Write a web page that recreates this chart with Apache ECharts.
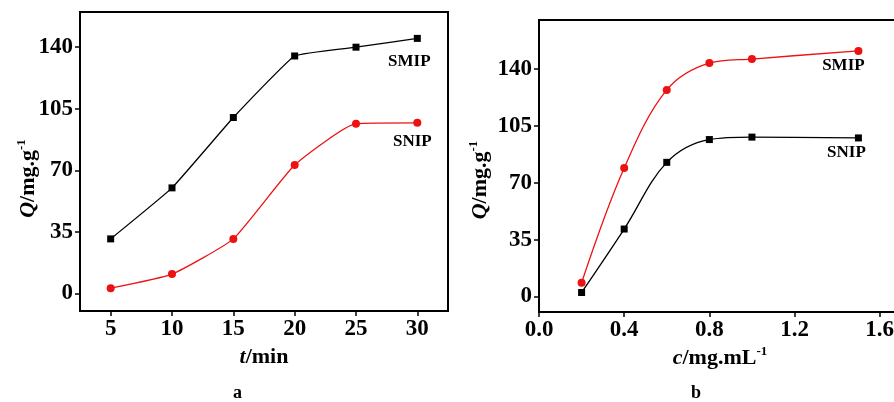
<!DOCTYPE html>
<html>
<head>
<meta charset="utf-8">
<script src="https://cdn.jsdelivr.net/npm/echarts@6/dist/echarts.min.js"></script>
<style>
  html, body { margin: 0; padding: 0; background: #fff; }
  #chart { width: 894px; height: 402px; }
</style>
</head>
<body>
<div id="chart"></div>
<script>
// panel a: Q vs t
const tA = [5, 10, 15, 20, 25, 30];
const smipA = [31, 60, 100, 135, 140, 145];
const snipA = [3, 11, 31, 73, 96.5, 97];
// panel b: Q vs c
const cB = [0.2, 0.4, 0.6, 0.8, 1.0, 1.5];
const smipB = [8.5, 79, 127, 143.5, 146, 151];
const snipB = [2.5, 41.5, 82.5, 96.5, 98, 97.5];

const qTicks = [0, 35, 70, 105, 140];
const tTicks = [5, 10, 15, 20, 25, 30];
const cTicks = [0, 0.4, 0.8, 1.2, 1.6];
const seriesNames = ["SMIP", "SNIP"];
const captions = ["a", "b"];

const FONT = "'Liberation Serif', 'Times New Roman', serif";

function pairs(xs, ys) {
  return xs.map((x, i) => [x, ys[i]]);
}

// tag the last point with the series name
function withEndLabel(data, text, offset) {
  let out = data.slice();
  let last = out.length - 1;
  out[last] = {
    value: out[last],
    label: {
      show: true,
      position: "inside",
      offset: offset,
      formatter: text,
      color: "#000",
      fontFamily: FONT,
      fontWeight: "bold",
      fontSize: 17,
    },
  };
  return out;
}

function nameStyle(pad) {
  return {
    fontFamily: FONT,
    fontWeight: "bold",
    fontSize: 22,
    color: "#000",
    padding: pad || 0,
    rich: {
      i: { fontFamily: FONT, fontWeight: "bold", fontStyle: "italic", fontSize: 22, color: "#000", lineHeight: 26 },
      n: { fontFamily: FONT, fontWeight: "bold", fontSize: 22, color: "#000", lineHeight: 26 },
      s: { fontFamily: FONT, fontWeight: "bold", fontSize: 13, color: "#000", verticalAlign: "top", lineHeight: 12 },
    },
  };
}

function axisBase(ticks, fmt) {
  return {
    type: "value",
    nameMoveOverlap: false,
    axisLine: { show: true, onZero: false, lineStyle: { color: "#000", width: 2 } },
    axisTick: { show: true, inside: false, length: 5, customValues: ticks, lineStyle: { color: "#000", width: 1.5 } },
    axisLabel: {
      customValues: ticks,
      margin: 7,
      color: "#000",
      fontFamily: FONT,
      fontWeight: "bold",
      fontSize: 23,
      formatter: fmt,
    },
    splitLine: { show: false },
  };
}

let myChart = echarts.init(document.getElementById("chart"));

let option = {
  animation: false,
  grid: [
    { left: 80, top: 12, width: 368, height: 299, outerBoundsMode: "none", show: true, borderColor: "#000", borderWidth: 2 },
    { left: 539, top: 20, width: 362, height: 292, outerBoundsMode: "none", show: true, borderColor: "#000", borderWidth: 2 },
  ],
  xAxis: [
    Object.assign(axisBase(tTicks, (v) => "" + v), {
      gridIndex: 0, min: 2.5, max: 32.5,
      name: "{i|t}{n|/min}", nameLocation: "middle", nameGap: 33, nameTextStyle: nameStyle(),
    }),
    Object.assign(axisBase(cTicks, (v) => v.toFixed(1)), {
      gridIndex: 1, min: 0, max: 1.7,
      name: "{i|c}{n|/mg.mL}{s|-1}", nameLocation: "middle", nameGap: 33, nameTextStyle: nameStyle(),
    }),
  ],
  yAxis: [
    Object.assign(axisBase(qTicks, (v) => "" + v), {
      gridIndex: 0, min: -10, max: 160,
      name: "{i|Q}{n|/mg.g}{s|-1}", nameLocation: "middle", nameGap: 39, nameTextStyle: nameStyle([0, 34, 0, 0]),
    }),
    Object.assign(axisBase(qTicks, (v) => "" + v), {
      gridIndex: 1, min: -9.5, max: 170,
      name: "{i|Q}{n|/mg.g}{s|-1}", nameLocation: "middle", nameGap: 46, nameTextStyle: nameStyle([0, 28, 0, 0]),
    }),
  ],
  series: [
    {
      name: "SMIP-a", type: "line", xAxisIndex: 0, yAxisIndex: 0,
      smooth: 0.1,
      symbol: "rect", symbolSize: 7,
      itemStyle: { color: "#000" }, lineStyle: { color: "#000", width: 1.3 },
      data: withEndLabel(pairs(tA, smipA), seriesNames[0], [-8, 23]),
    },
    {
      name: "SNIP-a", type: "line", xAxisIndex: 0, yAxisIndex: 0,
      smooth: 0.15,
      symbol: "circle", symbolSize: 8,
      itemStyle: { color: "#ee1111" }, lineStyle: { color: "#ee1111", width: 1.3 },
      data: withEndLabel(pairs(tA, snipA), seriesNames[1], [-5, 19]),
    },
    {
      name: "SMIP-b", type: "line", xAxisIndex: 1, yAxisIndex: 1,
      smooth: 0.35,
      symbol: "circle", symbolSize: 8,
      itemStyle: { color: "#ee1111" }, lineStyle: { color: "#ee1111", width: 1.3 },
      data: withEndLabel(pairs(cB, smipB), seriesNames[0], [-15, 15]),
    },
    {
      name: "SNIP-b", type: "line", xAxisIndex: 1, yAxisIndex: 1,
      smooth: 0.35,
      symbol: "rect", symbolSize: 7,
      itemStyle: { color: "#000" }, lineStyle: { color: "#000", width: 1.3 },
      data: withEndLabel(pairs(cB, snipB), seriesNames[1], [-12, 15]),
    },
  ],
  graphic: [
    { type: "text", left: 233, top: 384, style: { text: captions[0], fill: "#000", font: "bold 18px " + FONT } },
    { type: "text", left: 691, top: 384, style: { text: captions[1], fill: "#000", font: "bold 18px " + FONT } },
  ],
};

myChart.setOption(option);
</script>
</body>
</html>
